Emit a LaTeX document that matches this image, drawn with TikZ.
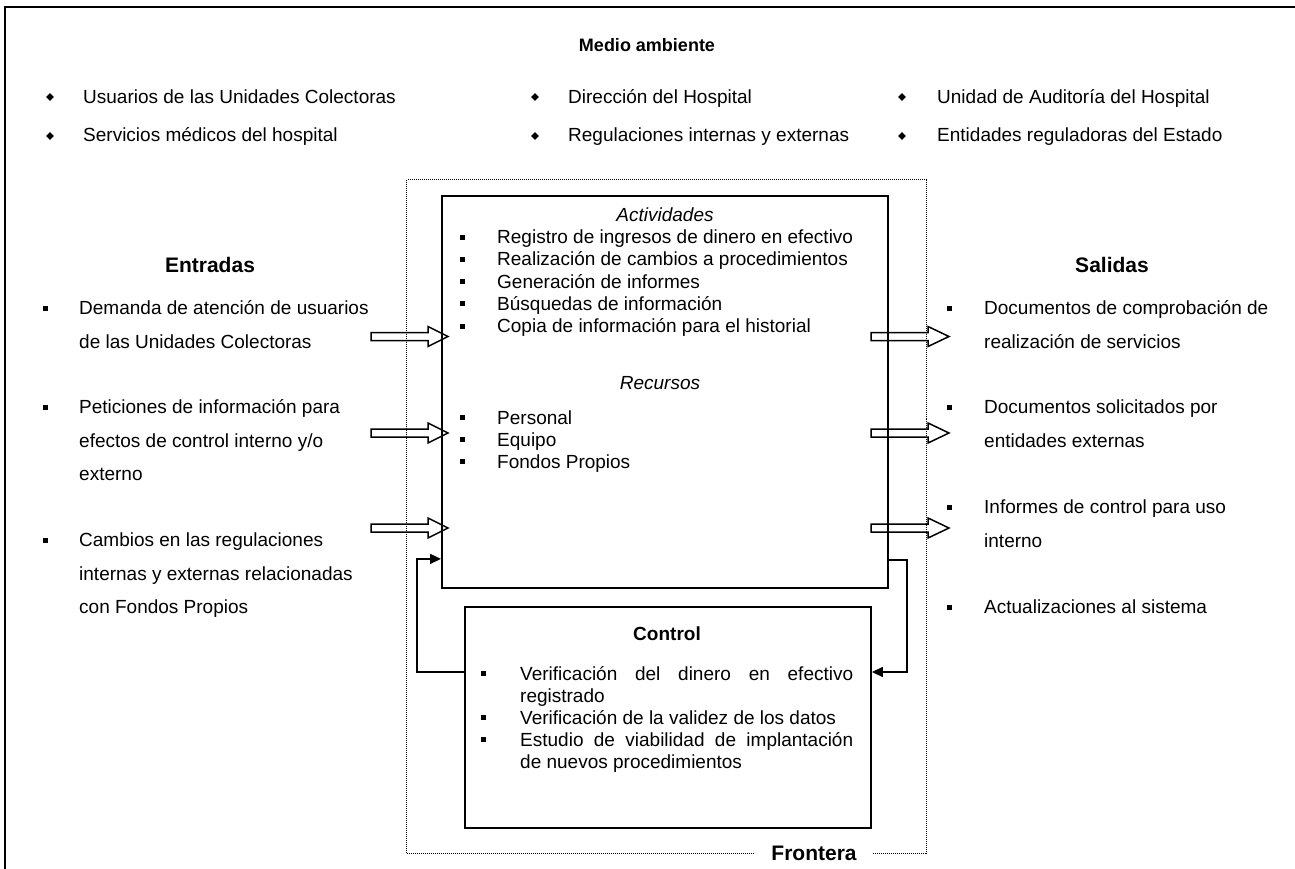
\documentclass[tikz,border=0pt]{standalone}
\usepackage{fontspec}
\setmainfont{Liberation Sans}
\usetikzlibrary{arrows.meta,calc,shapes.geometric}
\begin{document}
\begin{tikzpicture}[x=1pt,y=-1pt,
  txt/.style={font=\fontsize{19}{22}\selectfont, inner sep=0pt, anchor=base west},
  hdr/.style={font=\fontsize{21}{24}\selectfont\bfseries, inner sep=0pt, anchor=base},
  ital/.style={font=\fontsize{19}{22}\selectfont\itshape, inner sep=0pt, anchor=base},
  dia/.style={diamond, fill, inner sep=0pt, minimum size=8pt},
  sqb/.style={rectangle, fill, inner sep=0pt, minimum size=5pt},
  boxx/.style={draw, line width=1.9pt, inner sep=0pt, anchor=north west},
  frontier/.style={draw, line width=1pt, dash pattern=on 1pt off 1pt, inner sep=0pt, anchor=north west},
  blk/.style={draw, line width=1.5pt, line join=miter},
  fb/.style={draw, line width=1.5pt, -{Triangle[length=11pt,width=10pt]}},
]
\useasboundingbox (0,0) rectangle (1295,869);
% outer frame
\draw[line width=2.2pt] (5,880) -- (5,7) -- (1300,7);

% Medio ambiente
\node[hdr, font=\fontsize{18}{22}\selectfont\bfseries] (medio) at (647,52) {Medio ambiente};
\node[dia] (d1) at (50,97) {};
\node[txt] (m1) at (83,103.5) {Usuarios de las Unidades Colectoras};
\node[dia] (d2) at (50,136) {};
\node[txt] (m2) at (83,142) {Servicios médicos del hospital};
\node[dia] (d3) at (535,97) {};
\node[txt] (m3) at (568,103.5) {Dirección del Hospital};
\node[dia] (d4) at (535,136) {};
\node[txt] (m4) at (568,142) {Regulaciones internas y externas};
\node[dia] (d5) at (902,97) {};
\node[txt] (m5) at (937,103.5) {Unidad de Auditoría del Hospital};
\node[dia] (d6) at (902,136) {};
\node[txt] (m6) at (937,142) {Entidades reguladoras del Estado};

% Frontera
\node[frontier, minimum width=520pt, minimum height=674pt] (front) at (406,179) {};
\node[hdr, fill=white, inner xsep=16pt, inner ysep=3pt] (frl) at (814,860) {Frontera};

% Main box
\node[boxx, minimum width=446pt, minimum height=392pt] (main) at (441,195) {};
\node[ital] (act) at (665,221.5) {Actividades};
\foreach \yy/\tt [count=\i] in {243.5/Registro de ingresos de dinero en efectivo,
  265.75/Realización de cambios a procedimientos,
  288/Generación de informes,
  310.25/Búsquedas de información,
  332.5/Copia de información para el historial}{
  \node[sqb] (ab\i) at (462,\yy-6.5) {};
  \node[txt] (a\i) at (497,\yy) {\tt};
}
\node[ital] (rec) at (660,389) {Recursos};
\foreach \yy/\tt [count=\i] in {424/Personal, 446/Equipo, 468/Fondos Propios}{
  \node[sqb] (rb\i) at (462,\yy-6.5) {};
  \node[txt] (r\i) at (497,\yy) {\tt};
}

% Control box
\node[boxx, minimum width=406pt, minimum height=221pt] (ctrl) at (464,606) {};
\node[font=\fontsize{19}{22}\selectfont\bfseries, inner sep=0pt, anchor=base] (ctl) at (667,640) {Control};
\node[sqb] (cb1) at (483,673.5) {};
\node[txt] (c1) at (520,680) {\makebox[333pt][s]{Verificación del dinero en efectivo}};
\node[txt] (c1b) at (520,702) {registrado};
\node[sqb] (cb2) at (483,717.5) {};
\node[txt] (c2) at (520,724) {Verificación de la validez de los datos};
\node[sqb] (cb3) at (483,739.5) {};
\node[txt] (c3) at (520,746) {\makebox[333pt][s]{Estudio de viabilidad de implantación}};
\node[txt] (c3b) at (520,768) {de nuevos procedimientos};

% Entradas
\node[hdr] (ent) at (210,272.5) {Entradas};
\node[sqb] (eb1) at (45,308) {};
\node[txt] (e1a) at (79,314.5) {Demanda de atención de usuarios};
\node[txt] (e1b) at (79,348) {de las Unidades Colectoras};
\node[sqb] (eb2) at (45,407) {};
\node[txt] (e2a) at (79,413.5) {Peticiones de información para};
\node[txt] (e2b) at (79,447) {efectos de control interno y/o};
\node[txt] (e2c) at (79,480.5) {externo};
\node[sqb] (eb3) at (45,540) {};
\node[txt] (e3a) at (79,546.5) {Cambios en las regulaciones};
\node[txt] (e3b) at (79,580) {internas y externas relacionadas};
\node[txt] (e3c) at (79,613.5) {con Fondos Propios};

% Salidas
\node[hdr] (sal) at (1112,272.5) {Salidas};
\node[sqb] (sb1) at (949,308) {};
\node[txt] (s1a) at (984,314.5) {Documentos de comprobación de};
\node[txt] (s1b) at (984,348) {realización de servicios};
\node[sqb] (sb2) at (949,407) {};
\node[txt] (s2a) at (984,413.5) {Documentos solicitados por};
\node[txt] (s2b) at (984,447) {entidades externas};
\node[sqb] (sb3) at (949,507) {};
\node[txt] (s3a) at (984,513.5) {Informes de control para uso};
\node[txt] (s3b) at (984,547) {interno};
\node[sqb] (sb4) at (949,607) {};
\node[txt] (s4a) at (984,613.5) {Actualizaciones al sistema};

% block arrows (inputs and outputs)
\foreach \yy in {336.5,433,528}{
  \draw[blk] (371,{\yy-4}) -- (428,{\yy-4}) -- (428,{\yy-10}) -- (448,\yy)
     -- (428,{\yy+10}) -- (428,{\yy+4}) -- (371,{\yy+4}) -- cycle;
  \draw[blk] (871,{\yy-4}) -- (928,{\yy-4}) -- (928,{\yy-10}) -- (949,\yy)
     -- (928,{\yy+10}) -- (928,{\yy+4}) -- (871,{\yy+4}) -- cycle;
}

% feedback connectors
\draw[fb] ($(ctrl.north west)+(0,66)$) -| ($(main.south west)+(-24,-30)$) -- ($(main.south west)+(0,-30)$);
\draw[fb] ($(main.south east)+(0,-29)$) -| ($(ctrl.north east)+(35,66)$) -- ($(ctrl.north east)+(0,66)$);
\end{tikzpicture}
\end{document}
